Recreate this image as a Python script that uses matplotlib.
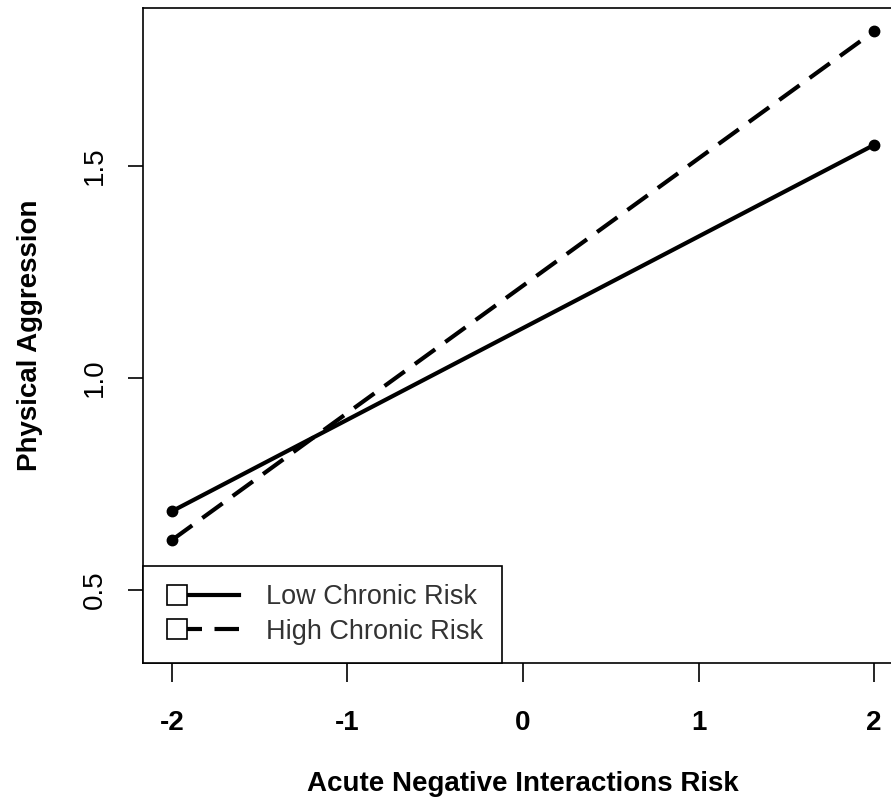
import matplotlib
matplotlib.use("Agg")
import matplotlib.pyplot as plt
from matplotlib.lines import Line2D
from matplotlib.legend_handler import HandlerBase

plt.rcParams['font.family'] = ['Liberation Sans', 'DejaVu Sans']

# Data
x_vals = [-2, 2]
low_chronic = [0.686, 1.550]
high_chronic = [0.618, 1.818]
series_names = ["Low Chronic Risk", "High Chronic Risk"]
x_ticks = [-2, -1, 0, 1, 2]
y_ticks = [0.5, 1.0, 1.5]

W, H = 891, 806
fig = plt.figure(figsize=(W / 100, H / 100), dpi=100)
left, right, bottom, top = 143, 903, 663, 8
ax = fig.add_axes([left / W, 1 - bottom / H, (right - left) / W, (bottom - top) / H])

lw = 3.0
dash = (0, (6.0, 3.0))
ax.plot(x_vals, low_chronic, color='black', lw=lw, marker='o', ms=7.5, solid_capstyle='butt')
ax.plot(x_vals, high_chronic, color='black', lw=lw, marker='o', ms=7.5, ls=dash)

ax.set_xlim(-2.165, 2.165)
ax.set_ylim(0.328, 1.873)
ax.set_xticks(x_ticks)
ax.set_xticklabels([str(t) for t in x_ticks], fontweight='bold', fontsize=20)
ax.set_yticks(y_ticks)
ax.set_yticklabels([f"{t:.1f}" for t in y_ticks], fontsize=20, rotation=90, va='center')
ax.tick_params(axis='x', length=14, width=1.2, pad=20)
ax.tick_params(axis='y', length=11, width=1.2, pad=14)
for s in ax.spines.values():
    s.set_linewidth(1.2)

ax.set_xlabel("Acute Negative Interactions Risk", fontweight='bold', fontsize=20, labelpad=25)
ax.set_ylabel("Physical Aggression", fontweight='bold', fontsize=20, labelpad=28)


class LeftMarkerHandler(HandlerBase):
    def __init__(self, ls, **kw):
        super().__init__(**kw)
        self.ls = ls

    def create_artists(self, legend, orig_handle, xdescent, ydescent, width, height, fontsize, trans):
        y = height / 2 - ydescent
        x0 = -xdescent
        xm = x0 + 11.5
        line = Line2D([xm, x0 + width], [y, y], color='black', lw=lw, ls=self.ls)
        mk = Line2D([xm], [y], marker='s', ms=14, mfc='white', mec='black', mew=1.2, ls='none')
        line.set_transform(trans)
        mk.set_transform(trans)
        return [line, mk]


h1 = Line2D([], [], color='black')
h2 = Line2D([], [], color='black', ls='--')
leg = ax.legend([h1, h2], series_names, loc='lower left', bbox_to_anchor=(0, 0),
                borderaxespad=0, fontsize=19.5, frameon=True, fancybox=False,
                edgecolor='black', framealpha=1, handlelength=2.87, handletextpad=1.0,
                borderpad=0.68, labelspacing=0.3,
                handler_map={h1: LeftMarkerHandler('-'), h2: LeftMarkerHandler(dash)})
leg.get_frame().set_linewidth(1.2)
for t in leg.get_texts():
    t.set_color('#333333')

fig.savefig("out.png", dpi=100)
